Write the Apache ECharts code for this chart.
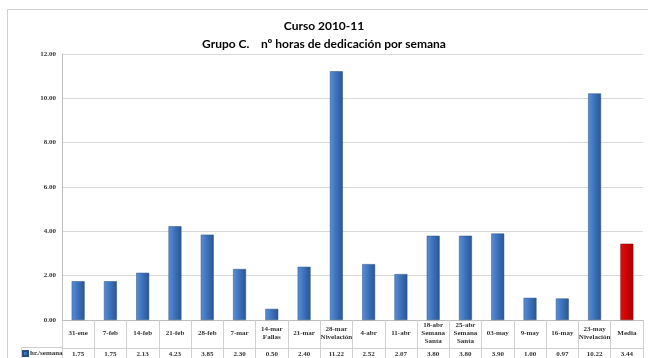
<!DOCTYPE html>
<html><head><meta charset="utf-8">
<script src="https://cdn.jsdelivr.net/npm/echarts@6/dist/echarts.min.js"></script>
<style>html,body{margin:0;padding:0;background:#fff}#c{width:648px;height:358px}</style>
</head><body><div id="c"></div>
<script>
const titleLines = ["Curso 2010-11", "Grupo C.    nº horas de dedicación por semana"];
const seriesName = "hr./semana";
const categories = ["31-ene","7-feb","14-feb","21-feb","28-feb","7-mar","14-mar\nFallas","21-mar","28-mar\nNivelación","4-abr","11-abr","18-abr\nSemana\nSanta","25-abr\nSemana\nSanta","03-may","9-may","16-may","23-may\nNivelación","Media"];
const values = [1.75,1.75,2.13,4.23,3.85,2.30,0.50,2.40,11.22,2.52,2.07,3.80,3.80,3.90,1.00,0.97,10.22,3.44];
const highlightCategory = "Media";
const yTicks = [0,2,4,6,8,10,12];

const chart = echarts.init(document.getElementById('c'));
const blueGrad = new echarts.graphic.LinearGradient(0,0,1,0,[
  {offset:0,color:'#5a8fd8'},{offset:0.45,color:'#3e73bd'},{offset:1,color:'#2b5592'}]);
const redGrad = new echarts.graphic.LinearGradient(0,0,1,0,[
  {offset:0,color:'#e01010'},{offset:0.5,color:'#cc0000'},{offset:1,color:'#a80000'}]);
const smallFont = {fontFamily:'Liberation Serif', fontSize:7, color:'#333', fontWeight:'bold'};
chart.setOption({
  animation:false,
  title:{text:titleLines.join('\n'), left:'center', top:12,
    textStyle:{fontFamily:'Lato', fontSize:12, fontWeight:'bold', color:'#000', lineHeight:18}},
  legend:{data:[seriesName], left:22, top:350, itemWidth:5, itemHeight:5, itemGap:2,
    icon:'rect', textStyle:Object.assign({}, smallFont, {padding:[0,0,0,-3]}), padding:0},
  grid:{left:62, right:5, top:54, bottom:38},
  xAxis:[{
    type:'category', data:categories, position:'bottom',
    axisLine:{lineStyle:{color:'#bfbfbf'}},
    axisTick:{show:true, interval:0, length:40, lineStyle:{color:'#d0d0d0'}},
    axisLabel:Object.assign({interval:0, margin:13, lineHeight:8, align:'center', verticalAlign:'middle'}, smallFont)
  },{
    type:'category', data:values.map(v=>v.toFixed(2)), position:'bottom', offset:28,
    axisLine:{show:true, lineStyle:{color:'#d0d0d0'}},
    axisTick:{show:false},
    axisLabel:Object.assign({interval:0, margin:3}, smallFont)
  }],
  yAxis:{type:'value', min:yTicks[0], max:yTicks[yTicks.length-1], interval:2,
    axisLine:{show:true, lineStyle:{color:'#bfbfbf'}},
    axisTick:{show:false},
    splitLine:{lineStyle:{color:'#d9d9d9'}},
    axisLabel:Object.assign({formatter:v=>v.toFixed(2), margin:6}, smallFont)},
  series:[{
    name:seriesName, type:'bar', barWidth:'40%', xAxisIndex:0,
    itemStyle:{color:blueGrad, borderColor:'#2a5080', borderWidth:0.5},
    data:values.map((v,i)=> categories[i]===highlightCategory ? {value:v, itemStyle:{color:redGrad, borderColor:'#8a0000'}} : v)
  }],
  graphic:[
    {type:'rect', shape:{x:7.5,y:9.5,width:700,height:400}, style:{fill:'none', stroke:'#d0d0d0', lineWidth:1}, silent:true},
    {type:'line', shape:{x1:21.5,y1:347.5,x2:62,y2:347.5}, style:{stroke:'#d0d0d0', lineWidth:1}},
    {type:'line', shape:{x1:21.5,y1:347.5,x2:21.5,y2:360}, style:{stroke:'#d0d0d0', lineWidth:1}}
  ]
});
</script></body></html>
